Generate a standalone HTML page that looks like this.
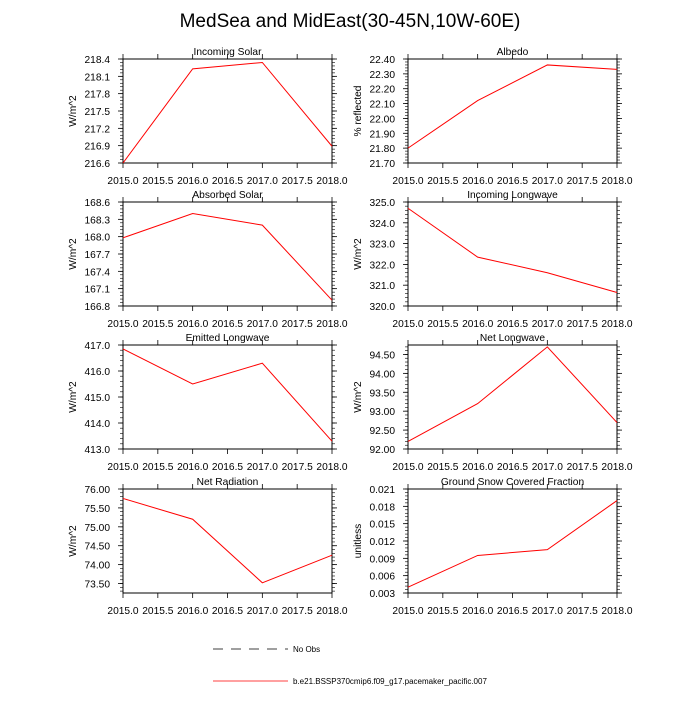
<!DOCTYPE html>
<html><head><meta charset="utf-8"><style>
body{margin:0;background:#fff;font-family:"Liberation Sans",sans-serif}
svg text{font-family:"Liberation Sans",sans-serif}
</style></head><body>
<svg id="c" width="700" height="700" viewBox="0 0 700 700">
<text x="350" y="27" text-anchor="middle" font-size="19">MedSea and MidEast(30-45N,10W-60E)</text>
<g>
<line x1="213" y1="649" x2="288" y2="649" stroke="#000" stroke-width="0.8" stroke-dasharray="10,8"/>
<text x="293" y="652" font-size="8">No Obs</text>
<line x1="213" y1="681" x2="288" y2="681" stroke="red" stroke-width="0.8"/>
<text x="293" y="684" font-size="8">b.e21.BSSP370cmip6.f09_g17.pacemaker_pacific.007</text>
</g>
</svg>
<script>
const years=[2015,2016,2017,2018];
const xTicks=["2015.0","2015.5","2016.0","2016.5","2017.0","2017.5","2018.0"];
const titles=["Incoming Solar","Albedo","Absorbed Solar","Incoming Longwave","Emitted Longwave","Net Longwave","Net Radiation","Ground Snow Covered Fraction"];
const units=["W/m^2","% reflected","W/m^2","W/m^2","W/m^2","W/m^2","W/m^2","unitless"];
const vIncSolar=[216.6,218.23,218.34,216.89];
const vAlbedo=[21.80,22.12,22.36,22.33];
const vAbsSolar=[167.98,168.40,168.20,166.90];
const vIncLW=[324.7,322.35,321.6,320.65];
const vEmitLW=[416.85,415.5,416.3,413.3];
const vNetLW=[92.2,93.2,94.7,92.7];
const vNetRad=[75.75,75.2,73.52,74.25];
const vSnow=[0.0040,0.0095,0.0105,0.0190];
const yMin=[216.6,21.7,166.8,320,413,92,73.25,0.003];
const yMax=[218.4,22.4,168.6,325,417,94.75,76.0,0.021];
const yStep=[0.3,0.1,0.3,1,1,0.5,0.5,0.003];
const yDec=[1,2,1,1,1,2,2,3];
const yStart=[216.6,21.7,166.8,320,413,92,73.5,0.003];
const series=[vIncSolar,vAlbedo,vAbsSolar,vIncLW,vEmitLW,vNetLW,vNetRad,vSnow];
const svg=document.getElementById('c');
const NS='http://www.w3.org/2000/svg';
const FS='10.2';
function mk(t,a,p){const e=document.createElementNS(NS,t);for(const k in a)e.setAttribute(k,a[k]);(p||svg).appendChild(e);return e;}
const lefts=[123,408],tops=[59,202,345,489],W=209,H=104;
for(let i=0;i<8;i++){
 const L=lefts[i%2],T=tops[Math.floor(i/2)];
 const g=mk('g',{});
 
 
 const xs=v=>L+(v-2015)/3*W;
 const ys=v=>T+H-(v-yMin[i])/(yMax[i]-yMin[i])*H;
 const tt=mk('text',{x:L+W/2,y:T-4,'text-anchor':'middle','font-size':FS},g);tt.textContent=titles[i];
 
 
 for(let k=0;k<xTicks.length;k++){
  const x=xs(2015+k*0.5);
  mk('line',{x1:x,y1:T+H,x2:x,y2:T+H+5,stroke:'#000','stroke-width':0.8},g);
  mk('line',{x1:x,y1:T,x2:x,y2:T-5,stroke:'#000','stroke-width':0.8},g);
  const t=mk('text',{x:x,y:T+H+21,'text-anchor':'middle','font-size':FS},g);t.textContent=xTicks[k];
  
  
 }
 const st=yStep[i];
 for(let v=yStart[i];v<=yMax[i]+st*1e-3;v+=st){
  const y=ys(v);
  mk('line',{x1:L,y1:y,x2:L-5,y2:y,stroke:'#000','stroke-width':0.8},g);
  mk('line',{x1:L+W,y1:y,x2:L+W+5,y2:y,stroke:'#000','stroke-width':0.8},g);
  const t=mk('text',{x:L-13,y:y+4,'text-anchor':'end','font-size':FS},g);t.textContent=v.toFixed(yDec[i]);
  
  
 }
 for(let v=yStart[i]-st;v<=yMax[i]+1e-9;v+=st/5){
  if(v<yMin[i]-1e-9)continue;
  const y=ys(v);
  mk('line',{x1:L,y1:y,x2:L-3,y2:y,stroke:'#000','stroke-width':0.6},g);
  mk('line',{x1:L+W,y1:y,x2:L+W+3,y2:y,stroke:'#000','stroke-width':0.6},g);
 }
 const fr=mk('rect',{x:L,y:T,width:W,height:H,fill:'none',stroke:'#000','stroke-width':1},g);
 
 
 const yl=mk('text',{x:0,y:0,'text-anchor':'middle','font-size':FS,transform:`translate(${L-47},${T+H/2}) rotate(-90)`},g);yl.textContent=units[i];
 
 
 const pts=series[i].map((v,k)=>xs(years[k])+','+ys(v)).join(' ');
 const pl=mk('polyline',{points:pts,fill:'none',stroke:'red','stroke-width':1},g);
 
 
}
</script>
</body></html>
